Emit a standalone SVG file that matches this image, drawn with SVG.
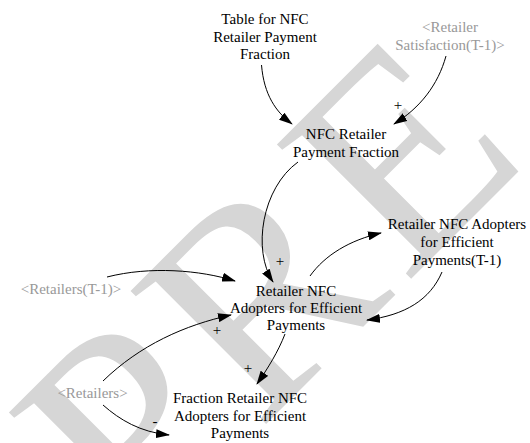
<svg xmlns="http://www.w3.org/2000/svg" width="530" height="443" viewBox="0 0 530 443">
<style>
text{font-family:'Liberation Serif','Times New Roman',serif;font-size:15px;text-anchor:middle;fill:#000}
.sh{fill:#999}
.wm{font-size:290px;text-anchor:start;fill:#d6d6d6}
.c path{fill:none;stroke:#000;stroke-width:1;marker-end:url(#ah)}
</style>
<defs>
<marker id="ah" markerUnits="userSpaceOnUse" markerWidth="14" markerHeight="9" viewBox="0 0 14 9" refX="13" refY="4.5" orient="auto">
<path d="M0,0 L14,4.5 L0,9 z" fill="#000"/>
</marker>
</defs>
<rect width="530" height="443" fill="#fff"/>
<text class="wm" transform="translate(150,540) rotate(-45)" x="-18 154 361" y="0">PRE</text>

<g id="connectors" class="c">
<path d="M261.5,65 C264,95 276,112 292,124"/>
<path d="M446,56 C438,85 420,108 394,124"/>
<path d="M298,162 C262,188 252,250 273,282"/>
<path d="M310,276 C325,255 350,240 381,233"/>
<path d="M442,272 C430,300 405,315 367,320"/>
<path d="M107,277 C150,266 200,270 235,281"/>
<path d="M103,381 C140,345 185,325 231,315"/>
<path d="M103,405 C120,420 140,432 169,435"/>
<path d="M285,334 C278,352 268,368 257,384"/>
</g>
<g id="polarities">
<text x="398" y="110">+</text>
<text x="280" y="266">+</text>
<text x="217" y="335">+</text>
<text x="248" y="373">+</text>
<text x="155" y="426">-</text>
</g>

<g id="table-nfc-retailer-payment-fraction">
<text x="265" y="24">Table for NFC</text>
<text x="265" y="41.5">Retailer Payment</text>
<text x="265" y="59">Fraction</text>
</g>
<g id="retailer-satisfaction-t1">
<text class="sh" x="450" y="32">&lt;Retailer</text>
<text class="sh" x="450" y="50">Satisfaction(T-1)&gt;</text>
</g>
<g id="nfc-retailer-payment-fraction">
<text x="346" y="138.5">NFC Retailer</text>
<text x="346" y="156.5">Payment Fraction</text>
</g>
<g id="retailer-nfc-adopters-t1">
<text x="457" y="228.5">Retailer NFC Adopters</text>
<text x="457" y="246.5">for Efficient</text>
<text x="457" y="264.5">Payments(T-1)</text>
</g>
<g id="retailers-t1">
<text class="sh" x="71" y="293.5">&lt;Retailers(T-1)&gt;</text>
</g>
<g id="retailer-nfc-adopters">
<text x="296" y="296">Retailer NFC</text>
<text x="296" y="313">Adopters for Efficient</text>
<text x="296" y="330">Payments</text>
</g>
<g id="retailers">
<text class="sh" x="92.5" y="397.5">&lt;Retailers&gt;</text>
</g>
<g id="fraction-retailer-nfc-adopters">
<text x="240" y="403">Fraction Retailer NFC</text>
<text x="240" y="420.5">Adopters for Efficient</text>
<text x="240" y="437.5">Payments</text>
</g>
</svg>
